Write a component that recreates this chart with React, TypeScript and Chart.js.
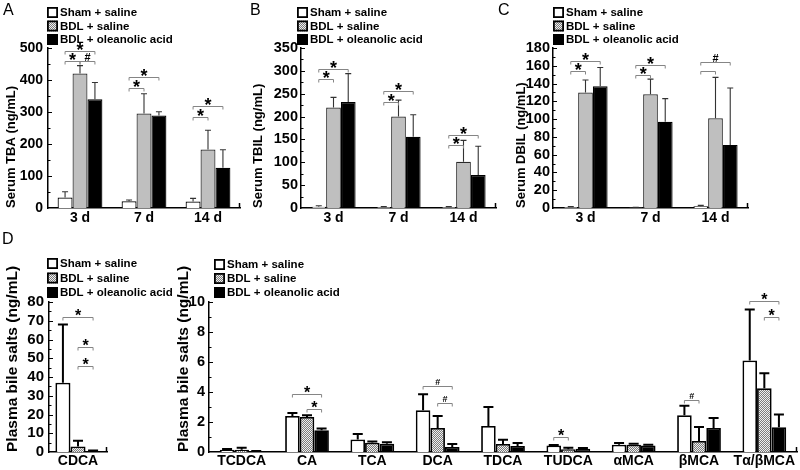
import React, { useEffect, useRef } from "react";
import { Chart, registerables } from "chart.js";

Chart.register(...registerables);

const FONT = '"Liberation Sans", Arial, Helvetica, sans-serif';

const SERIES_NAMES = ["Sham + saline", "BDL + saline", "BDL + oleanolic acid"];
const DAY_LABELS = ["3 d", "7 d", "14 d"];
const CDCA_LABELS = ["CDCA"];
const SALT_LABELS = ["TCDCA", "CA", "TCA", "DCA", "TDCA", "TUDCA", "αMCA", "βMCA", "Tα/βMCA"];

// significance brackets: [category, series a, series b, value, label]
type Sig = [number, number, number, number, string];

// Panel A – serum TBA
const tbaSham = [33, 21, 20];
const tbaShamSd = [18, 4, 10];
const tbaBdl = [420, 295, 183];
const tbaBdlSd = [25, 62, 60];
const tbaOa = [340, 289, 126];
const tbaOaSd = [52, 12, 56];
const tbaSig: Sig[] = [
  [0, 0, 1, 458, "*"], [0, 1, 2, 458, "#"], [0, 0, 2, 490, "*"],
  [1, 0, 1, 374, "*"], [1, 0, 2, 409, "*"],
  [2, 0, 1, 285, "*"], [2, 0, 2, 319, "*"],
];

// Panel B – serum TBIL
const tbilSham = [3, 2, 2];
const tbilShamSd = [2, 1, 1];
const tbilBdl = [220, 200, 101];
const tbilBdlSd = [22, 36, 47];
const tbilOa = [232, 156, 72];
const tbilOaSd = [62, 48, 63];
const tbilSig: Sig[] = [
  [0, 0, 1, 282, "*"], [0, 0, 2, 305, "*"],
  [1, 0, 1, 232, "*"], [1, 0, 2, 255, "*"],
  [2, 0, 1, 137, "*"], [2, 0, 2, 160, "*"],
];

// Panel C – serum DBIL
const dbilSham = [1, 0.5, 2];
const dbilShamSd = [0.5, 0.3, 1];
const dbilBdl = [130, 128, 101];
const dbilBdlSd = [14, 17, 46];
const dbilOa = [137, 97, 71];
const dbilOaSd = [21, 26, 64];
const dbilSig: Sig[] = [
  [0, 0, 1, 154, "*"], [0, 0, 2, 165, "*"],
  [1, 0, 1, 150, "*"], [1, 0, 2, 161, "*"],
  [2, 0, 1, 154, ""], [2, 0, 2, 164, "#"],
];

// Panel D (left) – CDCA
const cdcaSham = [37];
const cdcaShamSd = [31];
const cdcaBdl = [3];
const cdcaBdlSd = [3];
const cdcaOa = [0.5];
const cdcaOaSd = [0.3];
const cdcaSig: Sig[] = [
  [0, 0, 2, 72, "*"], [0, 1, 2, 56, "*"], [0, 1, 2, 46, "*"],
];

// Panel D (right) – other bile salts
const saltSham = [0.15, 2.4, 0.84, 2.78, 1.73, 0.44, 0.49, 2.45, 6.1];
const saltShamSd = [0.05, 0.2, 0.36, 1.07, 1.27, 0.02, 0.11, 0.64, 3.4];
const saltBdl = [0.15, 2.33, 0.62, 1.6, 0.53, 0.18, 0.49, 0.73, 4.25];
const saltBdlSd = [0.14, 0.12, 0.08, 0.8, 0.29, 0.11, 0.06, 0.94, 1.0];
const saltOa = [0.05, 1.45, 0.55, 0.33, 0.4, 0.22, 0.44, 1.6, 1.65];
const saltOaSd = [0.02, 0.12, 0.1, 0.2, 0.2, 0.05, 0.05, 0.67, 0.85];
const saltSig: Sig[] = [
  [1, 0, 2, 3.87, "*"], [1, 1, 2, 2.87, "*"],
  [3, 0, 2, 4.4, "#"], [3, 1, 2, 3.27, "#"],
  [5, 0, 1, 1.0, "*"],
  [7, 0, 1, 3.47, "#"],
  [8, 0, 2, 10.1, "*"], [8, 1, 2, 9.0, "*"],
];

interface PanelDef {
  box: { left: number; top: number; width: number; height: number };
  plot: { left: number; top: number; right: number; bottom: number };
  titleX: number;
  titleSize: number;
  yTitle: string;
  labels: string[];
  means: number[][];
  sds: number[][];
  sig: Sig[];
  yMax: number;
  yStep: number;
  yMinor: number;
  hatchBars: boolean;
  thick: boolean;
  frac: number;
  legend: { x: number; y: number; gap: number };
  letter: { text: string; x: number; y: number } | null;
  yFont: number;
  yPad: number;
  xPad: number;
}

const PANELS: PanelDef[] = [
  {
    box: { left: 0, top: 0, width: 262, height: 232 },
    plot: { left: 48, top: 48, right: 240, bottom: 208 },
    titleX: 11, titleSize: 13, yTitle: "Serum TBA (ng/mL)",
    labels: DAY_LABELS,
    means: [tbaSham, tbaBdl, tbaOa], sds: [tbaShamSd, tbaBdlSd, tbaOaSd], sig: tbaSig,
    yMax: 500, yStep: 100, yMinor: 50,
    hatchBars: false, thick: false, frac: 0.7,
    legend: { x: 47, y: 12, gap: 13.5 },
    letter: { text: "A", x: 3, y: 11 }, yFont: 14, yPad: 5, xPad: 2,
  },
  {
    box: { left: 245, top: 0, width: 262, height: 232 },
    plot: { left: 301, top: 48, right: 496, bottom: 208 },
    titleX: 258, titleSize: 13, yTitle: "Serum TBIL (ng/mL)",
    labels: DAY_LABELS,
    means: [tbilSham, tbilBdl, tbilOa], sds: [tbilShamSd, tbilBdlSd, tbilOaSd], sig: tbilSig,
    yMax: 350, yStep: 50, yMinor: 25,
    hatchBars: false, thick: false, frac: 0.68,
    legend: { x: 297, y: 12, gap: 13.5 },
    letter: { text: "B", x: 250, y: 11 }, yFont: 14.5, yPad: 3, xPad: 2,
  },
  {
    box: { left: 495, top: 0, width: 305, height: 232 },
    plot: { left: 553, top: 48, right: 748, bottom: 208 },
    titleX: 521, titleSize: 13, yTitle: "Serum DBIL (ng/mL)",
    labels: DAY_LABELS,
    means: [dbilSham, dbilBdl, dbilOa], sds: [dbilShamSd, dbilBdlSd, dbilOaSd], sig: dbilSig,
    yMax: 180, yStep: 20, yMinor: 10,
    hatchBars: false, thick: false, frac: 0.68,
    legend: { x: 553, y: 12, gap: 13.5 },
    letter: { text: "C", x: 498, y: 11 }, yFont: 14.5, yPad: 3, xPad: 2,
  },
  {
    box: { left: 0, top: 232, width: 185, height: 238 },
    plot: { left: 49, top: 302, right: 107, bottom: 452 },
    titleX: 13, titleSize: 15.5, yTitle: "Plasma bile salts (ng/mL)",
    labels: CDCA_LABELS,
    means: [cdcaSham, cdcaBdl, cdcaOa], sds: [cdcaShamSd, cdcaBdlSd, cdcaOaSd], sig: cdcaSig,
    yMax: 80, yStep: 10, yMinor: 5,
    hatchBars: true, thick: true, frac: 0.78,
    legend: { x: 47, y: 263, gap: 14.5 },
    letter: { text: "D", x: 2, y: 240 }, yFont: 15, yPad: 5, xPad: 1,
  },
  {
    box: { left: 175, top: 232, width: 625, height: 238 },
    plot: { left: 209, top: 302, right: 797, bottom: 452 },
    titleX: 184, titleSize: 15.5, yTitle: "Plasma bile salts (ng/mL)",
    labels: SALT_LABELS,
    means: [saltSham, saltBdl, saltOa], sds: [saltShamSd, saltBdlSd, saltOaSd], sig: saltSig,
    yMax: 10, yStep: 2, yMinor: 1,
    hatchBars: true, thick: true, frac: 0.67,
    legend: { x: 214, y: 264, gap: 14 },
    letter: null, yFont: 14.5, yPad: 4, xPad: 1,
  },
];

function makeHatch(): CanvasPattern | string {
  const c = document.createElement("canvas");
  c.width = 4;
  c.height = 4;
  const g = c.getContext("2d");
  if (!g) return "#bbbbbb";
  g.fillStyle = "#efefef";
  g.fillRect(0, 0, 4, 4);
  g.fillStyle = "#7c7c7c";
  for (let y = 0; y < 4; y++) for (let x = 0; x < 4; x++) if ((x + y) % 2 === 0) g.fillRect(x, y, 1, 1);
  return g.createPattern(c, "repeat") || "#bbbbbb";
}

function Panel({ def }: { def: PanelDef }) {
  const ref = useRef<HTMLCanvasElement>(null);
  useEffect(() => {
    const canvas = ref.current;
    if (!canvas) return;
    const hatch = makeHatch();
    const legendFills: any[] = ["#ffffff", hatch, "#000000"];
    const barFills: any[] = ["#ffffff", def.hatchBars ? hatch : "#bfbfbf", "#000000"];
    const barBorders = ["#000000", def.hatchBars ? "#000000" : "#2a2a2a", "#000000"];
    const bx = def.box.left;
    const by = def.box.top;

    const overlay = {
      id: "overlay",
      afterDatasetsDraw(chart: any) {
        const ctx: CanvasRenderingContext2D = chart.ctx;
        const ys = chart.scales.y;
        const cap = def.thick ? 5 : 3;
        ctx.save();
        ctx.strokeStyle = def.thick ? "#000" : "#333";
        ctx.lineWidth = def.thick ? 2 : 1.1;
        def.means.forEach((arr, i) => {
          const meta = chart.getDatasetMeta(i);
          arr.forEach((m, j) => {
            const el = meta.data[j];
            if (!el) return;
            const yb = ys.getPixelForValue(m);
            const yt = ys.getPixelForValue(m + def.sds[i][j]);
            ctx.beginPath();
            ctx.moveTo(el.x, yb);
            ctx.lineTo(el.x, yt);
            ctx.moveTo(el.x - cap, yt);
            ctx.lineTo(el.x + cap, yt);
            ctx.stroke();
          });
        });
        ctx.restore();
      },
      afterDraw(chart: any) {
        const ctx: CanvasRenderingContext2D = chart.ctx;
        const ys = chart.scales.y;
        const ca = chart.chartArea;
        ctx.save();
        // inward y ticks
        ctx.strokeStyle = "#000";
        ctx.lineWidth = 1;
        for (let v = def.yMinor; v <= def.yMax + 1e-9; v += def.yMinor) {
          const y = Math.round(ys.getPixelForValue(v)) + 0.5;
          const r = v / def.yStep;
          const major = Math.abs(r - Math.round(r)) < 1e-6;
          ctx.beginPath();
          ctx.moveTo(ca.left, y);
          ctx.lineTo(ca.left + (major ? 4 : 2.5), y);
          ctx.stroke();
        }
        // right end tick of x axis
        ctx.lineWidth = 1.5;
        ctx.beginPath();
        ctx.moveTo(ca.right - 0.5, ca.bottom);
        ctx.lineTo(ca.right - 0.5, ca.bottom - 5);
        ctx.stroke();

        // significance brackets
        def.sig.forEach(([c, a, b, v, lab]) => {
          const ea = chart.getDatasetMeta(a).data[c];
          const eb = chart.getDatasetMeta(b).data[c];
          if (!ea || !eb) return;
          const xa = ea.x;
          const xb = eb.x;
          const y = Math.round(ys.getPixelForValue(v)) + 0.5;
          ctx.strokeStyle = "#858585";
          ctx.lineWidth = 1;
          ctx.beginPath();
          ctx.moveTo(xa, y + 3);
          ctx.lineTo(xa, y);
          ctx.lineTo(xb, y);
          ctx.lineTo(xb, y + 3);
          ctx.stroke();
          if (lab) {
            const size = lab === "*" ? (def.thick ? 16 : 18) : def.thick ? 9 : 11;
            ctx.font = `bold ${size}px ${FONT}`;
            ctx.fillStyle = "#000";
            ctx.textAlign = "center";
            ctx.textBaseline = "alphabetic";
            const m = ctx.measureText(lab);
            const target = y - 5;
            const base = target - (m.actualBoundingBoxDescent - m.actualBoundingBoxAscent) / 2;
            ctx.fillText(lab, (xa + xb) / 2, base);
          }
        });

        // y axis title
        ctx.fillStyle = "#000";
        ctx.font = `bold ${def.titleSize}px ${FONT}`;
        ctx.textAlign = "left";
        ctx.textBaseline = "middle";
        ctx.save();
        ctx.translate(def.titleX - bx, def.plot.bottom - by);
        ctx.rotate(-Math.PI / 2);
        ctx.fillText(def.yTitle, 0, 0);
        ctx.restore();

        // legend
        SERIES_NAMES.forEach((name, i) => {
          const lx = def.legend.x - bx;
          const cy = def.legend.y - by + i * def.legend.gap;
          ctx.fillStyle = legendFills[i];
          ctx.fillRect(lx, cy - 5, 11, 11);
          ctx.strokeStyle = "#000";
          ctx.lineWidth = 1.8;
          ctx.strokeRect(lx + 0.9, cy - 5 + 0.9, 9.2, 9.2);
          ctx.fillStyle = "#000";
          ctx.font = `bold 11.5px ${FONT}`;
          ctx.textAlign = "left";
          ctx.textBaseline = "middle";
          ctx.fillText(name, lx + 13, cy + 1);
        });

        // panel letter
        if (def.letter) {
          ctx.fillStyle = "#000";
          ctx.font = `16px ${FONT}`;
          ctx.textAlign = "left";
          ctx.textBaseline = "middle";
          ctx.fillText(def.letter.text, def.letter.x - bx, def.letter.y - by);
        }
        ctx.restore();
      },
    };

    const chart = new Chart(canvas, {
      type: "bar",
      data: {
        labels: def.labels,
        datasets: SERIES_NAMES.map((name, i) => ({
          label: name,
          data: def.means[i],
          backgroundColor: barFills[i],
          borderColor: barBorders[i],
          borderWidth: def.thick ? 1.8 : 1.2,
          categoryPercentage: def.frac,
          barPercentage: 1,
        })),
      },
      options: {
        responsive: false,
        maintainAspectRatio: false,
        animation: false,
        devicePixelRatio: 1,
        layout: {
          padding: {
            left: 0,
            top: def.plot.top - by,
            right: bx + def.box.width - def.plot.right,
            bottom: 0,
          },
        },
        plugins: {
          legend: { display: false },
          tooltip: { enabled: false },
        },
        scales: {
          x: {
            grid: { display: false, drawTicks: false },
            border: { display: true, color: "#000", width: 1.5 },
            ticks: {
              color: "#000",
              font: { family: FONT, size: 14, weight: "bold" },
              padding: def.xPad,
              autoSkip: false,
              maxRotation: 0,
              minRotation: 0,
            },
            afterFit: (s: any) => {
              s.height = by + def.box.height - def.plot.bottom;
            },
          },
          y: {
            min: 0,
            max: def.yMax,
            grid: { display: false, drawTicks: false },
            border: { display: true, color: "#000", width: 1.5 },
            ticks: {
              stepSize: def.yStep,
              autoSkip: false,
              color: "#000",
              font: { family: FONT, size: def.yFont, weight: "bold" },
              padding: def.yPad,
            },
            afterFit: (s: any) => {
              s.width = def.plot.left - bx;
            },
          },
        },
      } as any,
      plugins: [overlay as any],
    });
    return () => chart.destroy();
  }, [def]);
  return (
    <canvas
      ref={ref}
      width={def.box.width}
      height={def.box.height}
      style={{
        position: "absolute",
        left: def.box.left,
        top: def.box.top,
        width: def.box.width,
        height: def.box.height,
      }}
    />
  );
}

export default function App() {
  return (
    <div
      style={{
        position: "absolute",
        left: 0,
        top: 0,
        width: 800,
        height: 470,
        background: "#ffffff",
        overflow: "hidden",
      }}
    >
      {PANELS.map((p, i) => (
        <Panel key={i} def={p} />
      ))}
    </div>
  );
}
